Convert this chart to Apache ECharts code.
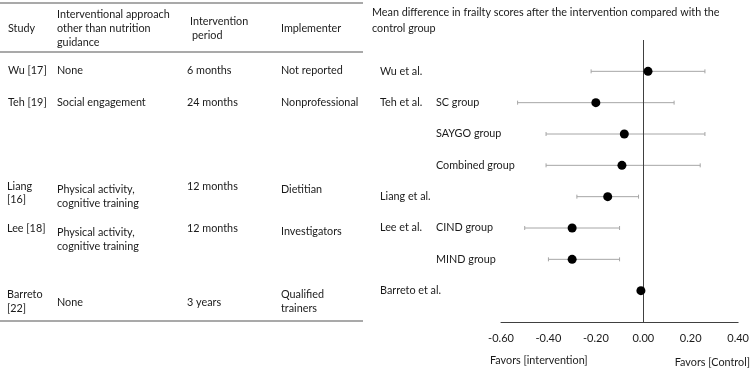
<!DOCTYPE html>
<html>
<head>
<meta charset="utf-8">
<script src="https://cdn.jsdelivr.net/npm/echarts@6/dist/echarts.min.js"></script>
<style>
  html, body { margin: 0; padding: 0; background: #fff; }
  #forest { width: 752px; height: 370px; }
</style>
</head>
<body>
<div id="forest"></div>
<script>
// data
var studyLabels = ['Wu et al.', 'Teh et al.', '', '', 'Liang et al.', 'Lee et al.', '', 'Barreto et al.'];
var groupLabels = ['', 'SC group', 'SAYGO group', 'Combined group', '', 'CIND group', 'MIND group', ''];
var meanDiff = [0.02, -0.20, -0.08, -0.09, -0.15, -0.30, -0.30, -0.01];
var ciLow = [-0.22, -0.53, -0.41, -0.41, -0.28, -0.50, -0.40, -0.01];
var ciHigh = [0.26, 0.13, 0.26, 0.24, -0.02, -0.10, -0.10, -0.01];
var xMin = -0.6, xMax = 0.4, xStep = 0.2;

// left table text (one entry per line of text)
var tableHeader = [
    {x: 8, y: 29, t: 'Study'},
    {x: 57, y: 15, t: 'Interventional approach'},
    {x: 57, y: 29, t: 'other than nutrition'},
    {x: 57, y: 43, t: 'guidance'},
    {x: 190, y: 22, t: 'Intervention'},
    {x: 192, y: 36, t: 'period'},
    {x: 281, y: 29, t: 'Implementer'}
];
var tableBody = [
    {x: 8, y: 71, t: 'Wu [17]'}, {x: 57, y: 71, t: 'None'}, {x: 187, y: 71, t: '6 months'}, {x: 281, y: 71, t: 'Not reported'},
    {x: 8, y: 103, t: 'Teh [19]'}, {x: 57, y: 103, t: 'Social engagement'}, {x: 187, y: 103, t: '24 months'}, {x: 281, y: 103, t: 'Nonprofessional'},
    {x: 7, y: 187, t: 'Liang'}, {x: 7, y: 200, t: '[16]'}, {x: 57, y: 190, t: 'Physical activity,'}, {x: 57, y: 204, t: 'cognitive training'},
    {x: 187, y: 187, t: '12 months'}, {x: 281, y: 190, t: 'Dietitian'},
    {x: 7, y: 229, t: 'Lee [18]'}, {x: 57, y: 233, t: 'Physical activity,'}, {x: 57, y: 247, t: 'cognitive training'},
    {x: 187, y: 229, t: '12 months'}, {x: 281, y: 232, t: 'Investigators'},
    {x: 7, y: 295, t: 'Barreto'}, {x: 7, y: 309, t: '[22]'}, {x: 57, y: 303, t: 'None'}, {x: 187, y: 303, t: '3 years'},
    {x: 281, y: 295, t: 'Qualified'}, {x: 281, y: 309, t: 'trainers'}
];

var FONT = 'Lato';
var TXT = '#1a1a1a';

// category slots: one empty slot above, the rows, one slot at the axis line
var cats = ['top'];
for (var i = 0; i < meanDiff.length; i++) cats.push('row' + i);
cats.push('axis');

var points = [], bars = [];
for (var i = 0; i < meanDiff.length; i++) {
    points.push([meanDiff[i], 'row' + i]);
    bars.push([ciLow[i], ciHigh[i], 'row' + i]);
}

var myChart = echarts.init(document.getElementById('forest'));

option = {
    animation: false,
    grid: {left: 501, right: 13, top: 40, bottom: 48},
    xAxis: {
        type: 'value',
        min: xMin,
        max: xMax,
        interval: xStep,
        axisLine: {show: true, onZero: false, lineStyle: {color: '#404040', width: 1}},
        axisTick: {show: false},
        splitLine: {show: false},
        axisLabel: {
            color: TXT, fontFamily: FONT, fontSize: 11, margin: 11,
            formatter: function (v) { return v.toFixed(2); }
        }
    },
    yAxis: {
        type: 'category',
        data: cats,
        inverse: true,
        boundaryGap: false,
        show: false
    },
    series: [
        {
            type: 'custom',
            silent: true,
            encode: {x: [0, 1], y: 2},
            renderItem: function (params, api) {
                var lo = api.coord([api.value(0), api.value(2)]);
                var hi = api.coord([api.value(1), api.value(2)]);
                var st = {stroke: '#a6a6a6', lineWidth: 1};
                return {
                    type: 'group',
                    children: [
                        {type: 'line', shape: {x1: lo[0], y1: lo[1], x2: hi[0], y2: hi[1]}, style: st},
                        {type: 'line', shape: {x1: lo[0], y1: lo[1] - 2, x2: lo[0], y2: lo[1] + 2}, style: st},
                        {type: 'line', shape: {x1: hi[0], y1: hi[1] - 2, x2: hi[0], y2: hi[1] + 2}, style: st}
                    ]
                };
            },
            data: bars
        },
        {
            type: 'scatter',
            symbol: 'circle',
            symbolSize: 9,
            itemStyle: {color: '#000', opacity: 1},
            data: points,
            z: 5,
            markLine: {
                silent: true,
                symbol: 'none',
                label: {show: false},
                lineStyle: {color: '#404040', width: 1, type: 'solid'},
                data: [{xAxis: 0}]
            }
        }
    ]
};

myChart.setOption(option);

// texts and table rules
var g = [];
function txt(x, y, t, extra) {
    var s = {x: x, y: y, text: t, fill: TXT, font: '10.8px ' + FONT, textVerticalAlign: 'middle', textAlign: 'left'};
    for (var k in extra) s[k] = extra[k];
    g.push({type: 'text', style: s, silent: true});
}
function rule(y) {
    g.push({type: 'line', silent: true, shape: {x1: 0, y1: y, x2: 363, y2: y}, style: {stroke: '#8c8c8c', lineWidth: 1.3}});
}
rule(3); rule(52); rule(321);
tableHeader.forEach(function (c) { txt(c.x, c.y, c.t); });
tableBody.forEach(function (c) { txt(c.x, c.y, c.t); });

txt(372, 13, 'Mean difference in frailty scores after the intervention compared with the');
txt(372, 29, 'control group');

for (var i = 0; i < meanDiff.length; i++) {
    var yy = myChart.convertToPixel({yAxisIndex: 0}, 'row' + i);
    if (studyLabels[i]) txt(380, yy, studyLabels[i]);
    if (groupLabels[i]) txt(436, yy, groupLabels[i]);
}

txt(490, 361, 'Favors [intervention]');
txt(750, 363, 'Favors [Control]', {textAlign: 'right'});

myChart.setOption({graphic: g});
</script>
</body>
</html>
